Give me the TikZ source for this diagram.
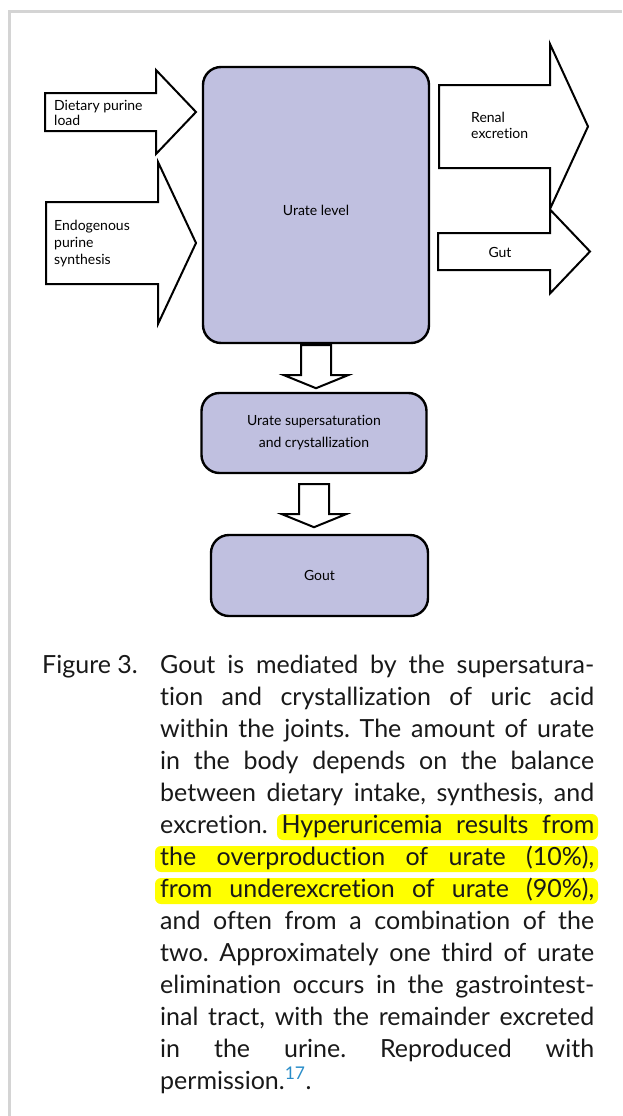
\documentclass[tikz,border=0pt]{standalone}
\usepackage{fontspec}
\setmainfont{Lato}[Ligatures={NoCommon}]
\usepackage{xcolor}
\usepackage{tikz}
\usetikzlibrary{positioning,calc}

\definecolor{boxfill}{RGB}{192,192,224}
\definecolor{framegray}{RGB}{212,212,212}
\definecolor{marker}{RGB}{255,255,0}
\definecolor{refblue}{RGB}{40,140,200}
\definecolor{captext}{RGB}{25,25,25}

% block arrow pointing right: start (left, centre), shaft length, half shaft, head extension, head length
\newcommand{\blockright}[5]{%
  \draw[fatarrow] ([yshift=#3pt]#1) -- ++(#2,0) -- ++(0,-#4) -- ++(#5,#3+#4)
    -- ++(-#5,#3+#4) -- ++(0,-#4) -- ++(-#2,0) -- cycle;}
% block arrow pointing down, hanging below a node
\newcommand{\blockdown}[2]{%
  \draw[fatarrow] ([shift={(-15,#2)}]#1.south) -- ++(0,30) -- ++(-17,0) -- ++(32,13)
    -- ++(32,-13) -- ++(-17,0) -- ++(0,-30) -- cycle;}

\begin{document}
\frenchspacing
\begin{tikzpicture}[x=1pt, y=-1pt,
  level/.style={draw, line width=2.4pt, fill=boxfill, rounded corners=18pt, align=center,
    inner sep=0pt, font=\fontsize{14}{22}\selectfont},
  fatarrow/.style={draw, line width=2pt, fill=white, line join=miter},
  flowtext/.style={align=left, inner sep=0pt, anchor=west},
  hlbar/.style={fill=marker, rounded corners=6pt}
]
\useasboundingbox (0,0) rectangle (622,1116);
\draw[framegray, line width=3pt] (9,1116) -- (9,12) -- (622,12);

% central boxes
\node[level, minimum width=226pt, minimum height=276pt] (urate) at (316,205) {\raisebox{-10pt}[0pt][0pt]{Urate level}};
\node[level, minimum width=225pt, minimum height=80pt] (crystal) at (314,433)
  {Urate supersaturation\\and crystallization};
\node[level, minimum width=217pt, minimum height=81pt] (gout) at (319.5,575.5) {Gout};

% inflow and outflow
\coordinate (dietin) at (45,112);
\coordinate (endoin) at (46,243);
\coordinate (renalout) at (439,126.5);
\coordinate (gutout) at (438,251.5);
\blockright{dietin}{111}{19}{23}{40}
\blockright{endoin}{112}{41}{40}{38}
\blockright{renalout}{111}{41.5}{41}{38}
\blockright{gutout}{112}{18.5}{23.5}{40}
\blockdown{urate}{1}
\blockdown{crystal}{10}

\node[flowtext, font=\fontsize{14}{15}\selectfont] (dietary) at (54,112.5) {Dietary purine\\load};
\node[flowtext, font=\fontsize{14}{17}\selectfont] (endogenous) at (54,244) {Endogenous\\purine\\synthesis};
\node[flowtext, font=\fontsize{14}{16}\selectfont] (renal) at (471,125) {Renal\\excretion};
\node[font=\fontsize{14}{16}\selectfont, inner sep=0pt] (gut) at (500,252) {Gut};

% caption
\fill[hlbar] (277,814) rectangle (598,840);
\fill[hlbar] (155,846) rectangle (598,872);
\fill[hlbar] (155,878) rectangle (598,904);
\node[anchor=base west, inner sep=0pt, text=captext, font=\fontsize{25}{32}\selectfont] (fignum) at (42,673) {Figure 3.};
\node[anchor=base west, inner sep=0pt, text width=434pt, align=justify, text=captext,
  font=\fontsize{25}{32}\selectfont] (caption) at (160,673)
  {Gout is mediated by the supersatura-\linebreak
   tion and crystallization of uric acid\linebreak
   within the joints. The amount of urate\linebreak
   in the body depends on the balance\linebreak
   between dietary intake, synthesis, and\linebreak
   excretion. Hyperuricemia results from\linebreak
   the overproduction of urate (10\%),\linebreak
   from underexcretion of urate (90\%),\linebreak
   and often from a combination of the\linebreak
   two. Approximately one third of urate\linebreak
   elimination occurs in the gastrointest-\linebreak
   inal tract, with the remainder excreted\linebreak
   in the urine. Reproduced with\linebreak
   permission.\textsuperscript{\textcolor{refblue}{17}}.};
\end{tikzpicture}
\end{document}
